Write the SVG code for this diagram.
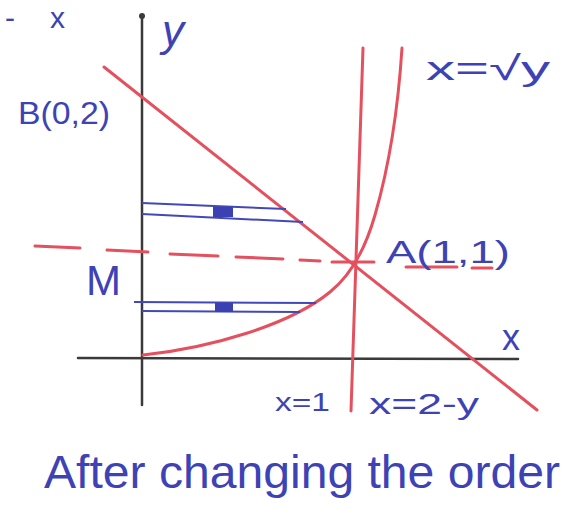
<svg xmlns="http://www.w3.org/2000/svg" width="568" height="523" viewBox="0 0 568 523">
<style>
.ax{stroke:#3a3a3a;stroke-width:2.5;fill:none;stroke-linecap:round}
.rd{stroke:#e5505e;stroke-width:3;fill:none;stroke-linecap:round}
.dash{stroke:#e5505e;stroke-width:3;fill:none;stroke-linecap:round}
.bl{stroke:#4348b8;stroke-width:2;fill:none}
.lbl{font-family:"Liberation Sans","DejaVu Sans",sans-serif;fill:#3d43b5}
</style>
<rect width="568" height="523" fill="#ffffff"/>
<g id="axes">
<line class="ax" x1="142" y1="16" x2="142" y2="405"/>
<circle cx="142" cy="16" r="3" fill="#3a3a3a"/>
<line class="ax" x1="78" y1="358" x2="518" y2="359"/>
</g>
<g id="connectors">
<line id="line-x-2-y" class="rd" x1="104" y1="67" x2="537" y2="410"/>
<line id="line-x-1" class="rd" x1="363" y1="48" x2="351" y2="411"/>
<path id="curve-sqrt" class="rd" d="M143,355 C210,348 290,325 330,292 C350,276 365,250 375,215 C388,170 398,110 402,48"/>
<g id="dashed-y1" class="dash">
<line x1="35" y1="246" x2="80" y2="248"/>
<line x1="107" y1="250" x2="148" y2="252"/>
<line x1="170" y1="254" x2="218" y2="256"/>
<line x1="236" y1="257" x2="283" y2="259"/>
<line x1="300" y1="260" x2="320" y2="261"/>
<line x1="332" y1="262" x2="374" y2="262"/>
<line x1="406" y1="267" x2="457" y2="267"/>
<line x1="472" y1="268" x2="492" y2="268"/>
</g>
</g>
<g id="strip-upper">
<line class="bl" x1="142" y1="203" x2="286" y2="209"/>
<line class="bl" x1="142" y1="214" x2="303" y2="222"/>
<rect x="213" y="207" width="20" height="10" fill="#3b41b0"/>
</g>
<g id="strip-lower">
<line class="bl" x1="134" y1="302" x2="316" y2="303"/>
<line class="bl" x1="142" y1="311" x2="300" y2="312"/>
<rect x="215" y="303" width="18" height="9" fill="#3b41b0"/>
</g>
<g id="labels" class="lbl">
<text x="5" y="28" font-size="30" textLength="60" lengthAdjust="spacing">- x</text>
<text x="162" y="46" font-size="44" font-style="italic">y</text>
<text x="18" y="124" font-size="32" textLength="92" lengthAdjust="spacingAndGlyphs">B(0,2)</text>
<text x="426" y="80" font-size="34" textLength="124" lengthAdjust="spacingAndGlyphs">x=√y</text>
<text x="386" y="263" font-size="32" textLength="124" lengthAdjust="spacingAndGlyphs">A(1,1)</text>
<text x="86" y="295" font-size="42">M</text>
<text x="502" y="350" font-size="36">x</text>
<text x="275" y="411" font-size="26" textLength="55" lengthAdjust="spacingAndGlyphs">x=1</text>
<text x="369" y="414" font-size="30" textLength="110" lengthAdjust="spacingAndGlyphs">x=2-y</text>
<text x="44" y="488" font-size="46" textLength="516" lengthAdjust="spacingAndGlyphs">After changing the order</text>
</g>
</svg>
